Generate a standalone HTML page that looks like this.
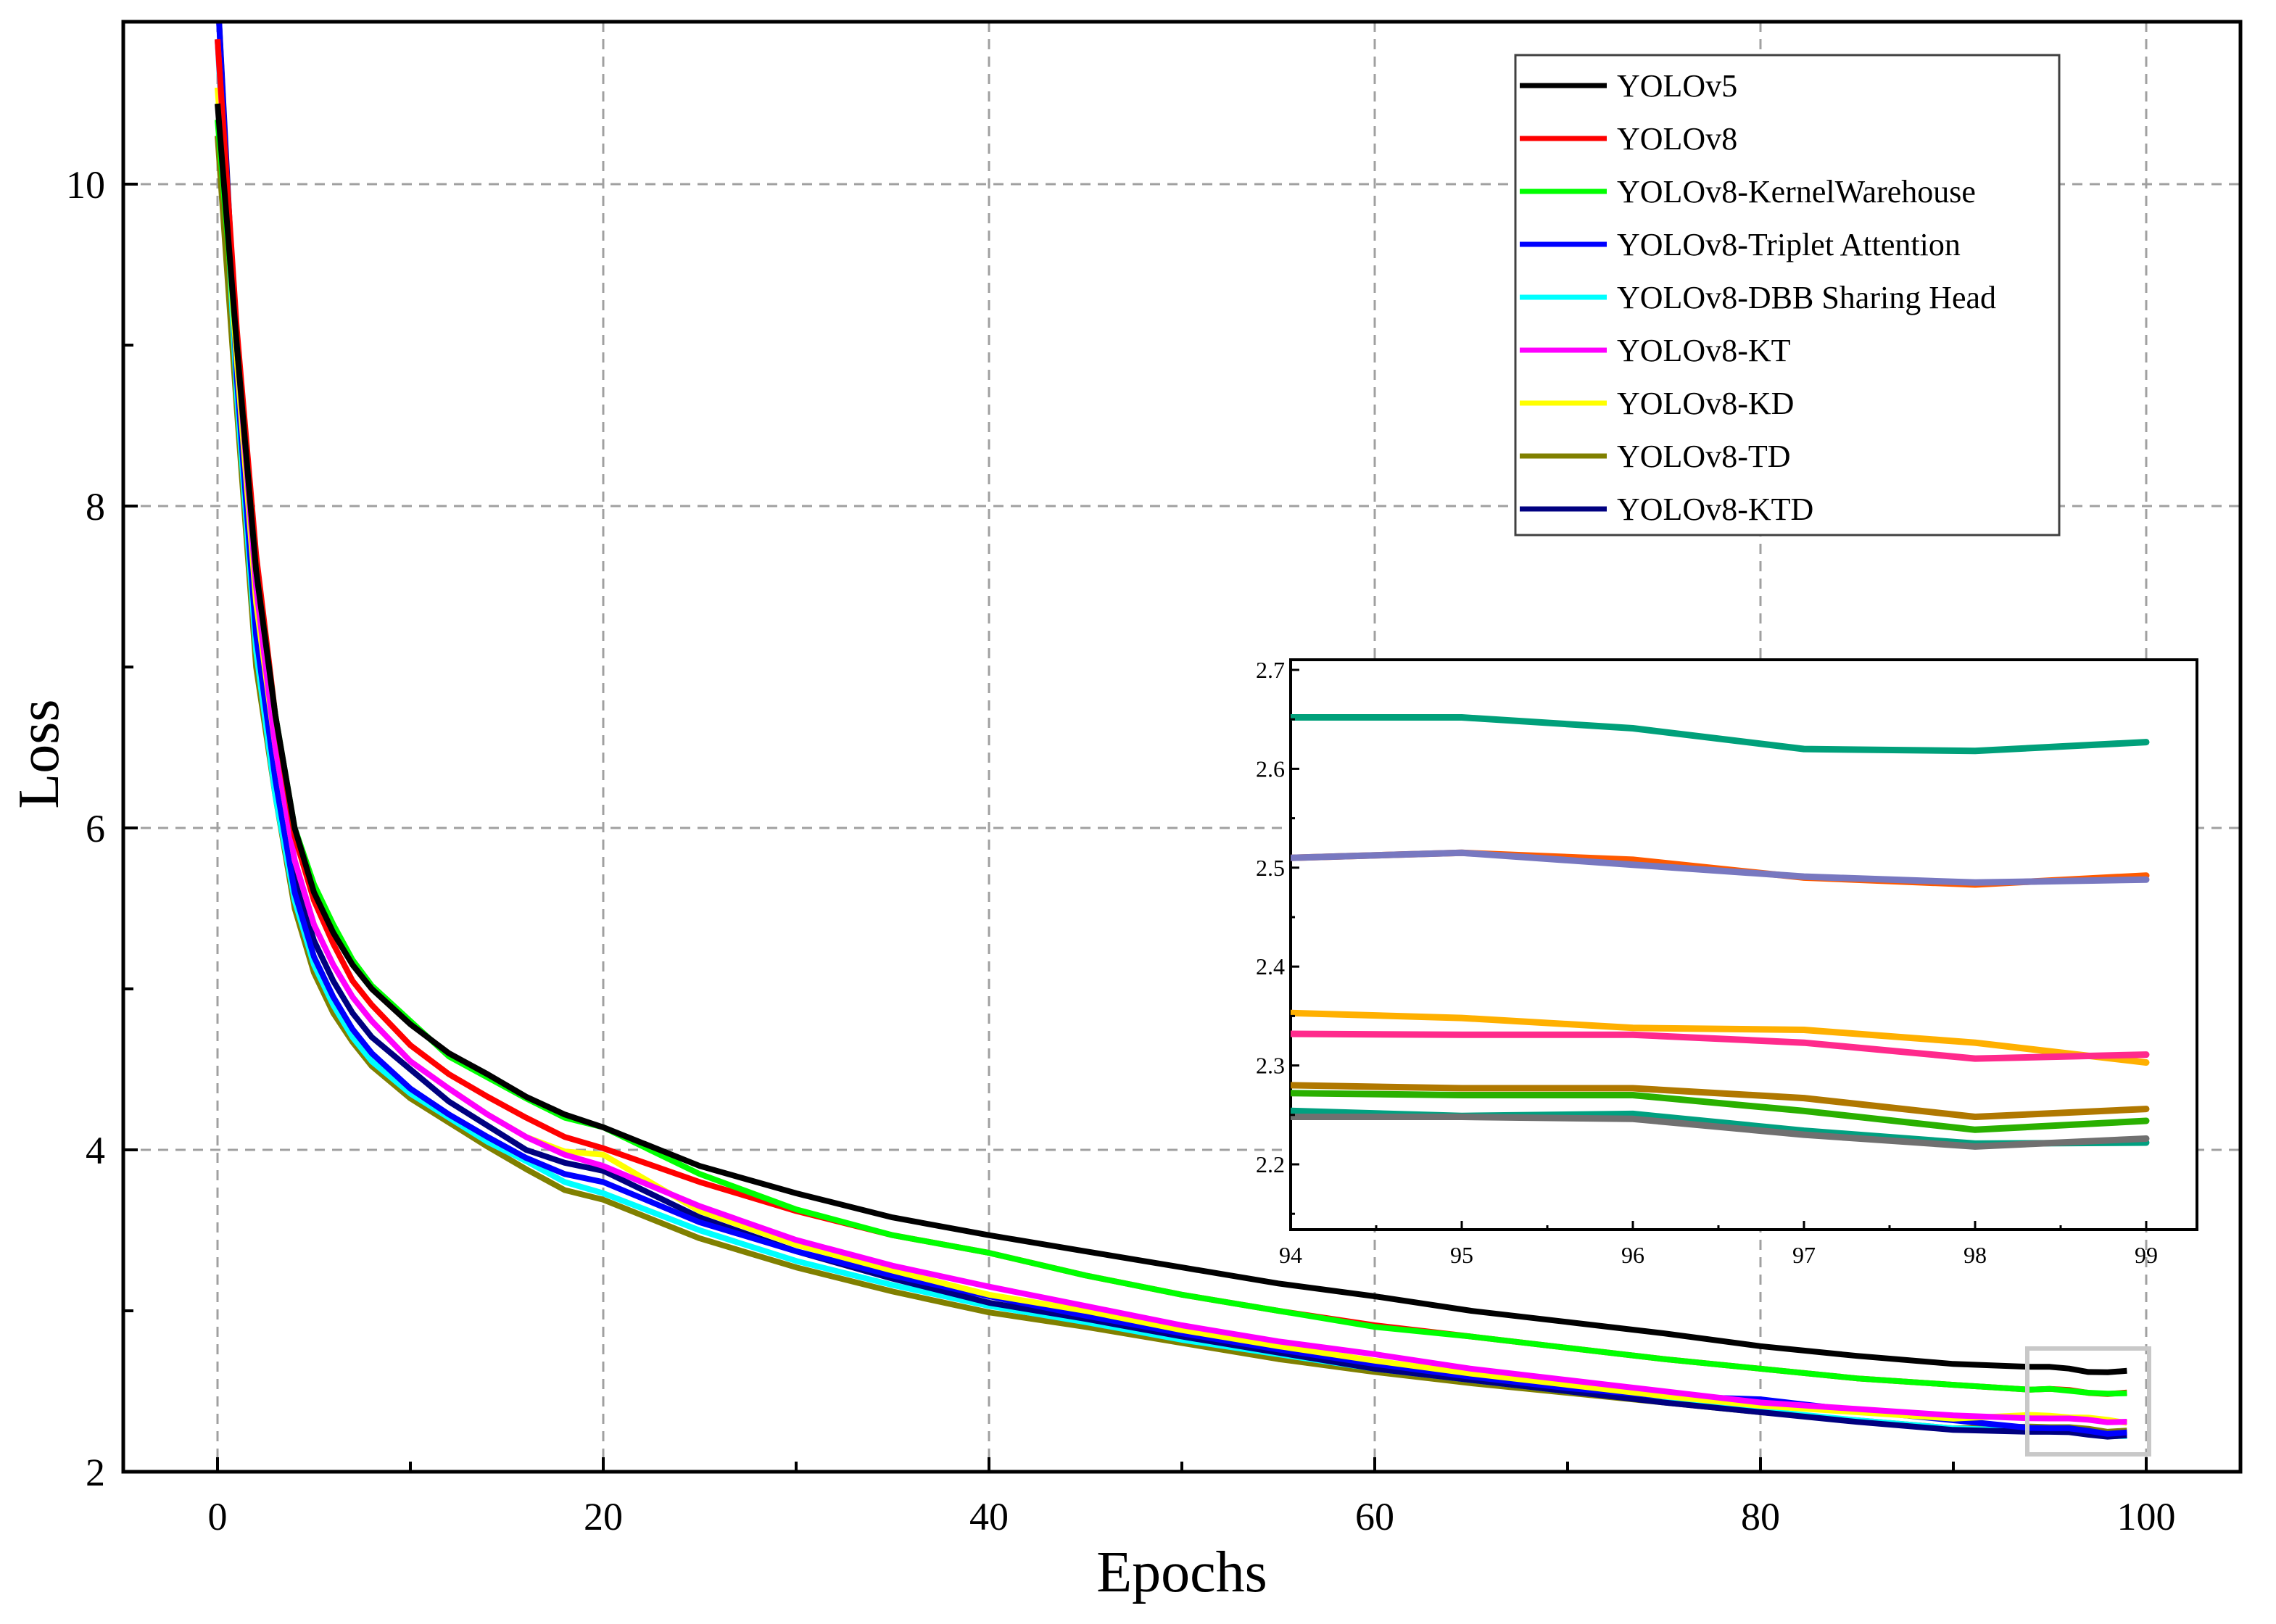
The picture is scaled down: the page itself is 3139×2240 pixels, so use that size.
<!DOCTYPE html>
<html><head><meta charset="utf-8"><style>
html,body{margin:0;padding:0;background:#fff;}
svg{display:block;font-family:"Liberation Serif",serif;}
</style></head><body>
<svg id="chart" width="3139" height="2240" viewBox="0 0 3139 2240" xmlns="http://www.w3.org/2000/svg">
<defs><clipPath id="mainClip"><rect x="170" y="30" width="2920" height="2000"/></clipPath>
<clipPath id="insetClip"><rect x="1780" y="910" width="1250" height="786"/></clipPath></defs>
<rect x="0" y="0" width="3139" height="2240" fill="#fff"/>
<g id="grid"></g>
<g id="lines" clip-path="url(#mainClip)"></g>
<rect x="170" y="30" width="2920" height="2000" fill="none" stroke="#000" stroke-width="5"/>
<g id="axes"></g>
<rect x="2796" y="1860" width="168" height="146" fill="none" stroke="#c8c8c8" stroke-width="6"/>
<g id="inset"></g>
<g id="legend"></g>
<text x="1630" y="2195" font-size="80" text-anchor="middle">Epochs</text>
<text x="0" y="0" font-size="80" text-anchor="middle" transform="translate(80,1040) rotate(-90)">Loss</text>
</svg>
<script>
const epochs=[0,1,2,3,4,5,6,7,8,10,12,14,16,18,20,25,30,35,40,45,50,55,60,65,70,75,80,85,90,94,95,96,97,98,99];
const seriesNames=["YOLOv5","YOLOv8","YOLOv8-KernelWarehouse","YOLOv8-Triplet Attention","YOLOv8-DBB Sharing Head","YOLOv8-KT","YOLOv8-KD","YOLOv8-TD","YOLOv8-KTD"];
const yolov5=[10.5,9.0,7.6,6.7,6.0,5.6,5.35,5.15,5.0,4.78,4.6,4.47,4.33,4.22,4.14,3.9,3.73,3.58,3.47,3.37,3.27,3.17,3.09,3.0,2.93,2.86,2.78,2.72,2.67,2.652,2.652,2.641,2.62,2.618,2.627];
const yolov8=[10.9,9.1,7.7,6.7,5.95,5.55,5.28,5.05,4.9,4.65,4.47,4.33,4.2,4.08,4.01,3.8,3.62,3.47,3.36,3.22,3.1,3.0,2.91,2.84,2.77,2.7,2.64,2.58,2.54,2.51,2.515,2.508,2.49,2.483,2.492];
const kernelWarehouse=[10.4,9.0,7.6,6.7,6.0,5.65,5.4,5.18,5.02,4.8,4.58,4.45,4.32,4.2,4.14,3.85,3.63,3.47,3.36,3.22,3.1,3.0,2.9,2.84,2.77,2.7,2.64,2.58,2.54,2.51,2.515,2.503,2.491,2.485,2.488];
const triplet=[11.2,8.8,7.2,6.3,5.6,5.2,4.95,4.75,4.6,4.38,4.22,4.08,3.95,3.85,3.8,3.55,3.37,3.22,3.09,2.97,2.86,2.76,2.67,2.59,2.52,2.47,2.45,2.38,2.32,2.272,2.27,2.27,2.254,2.235,2.244];
const dbb=[10.9,8.7,7.1,6.2,5.55,5.15,4.9,4.7,4.55,4.35,4.2,4.05,3.93,3.8,3.73,3.5,3.31,3.16,3.03,2.93,2.82,2.73,2.64,2.57,2.5,2.44,2.38,2.32,2.27,2.254,2.249,2.251,2.234,2.221,2.222];
const kt=[10.9,9.0,7.5,6.5,5.8,5.4,5.15,4.95,4.8,4.55,4.38,4.22,4.08,3.97,3.9,3.65,3.44,3.28,3.15,3.03,2.91,2.81,2.73,2.64,2.57,2.5,2.43,2.39,2.35,2.332,2.331,2.331,2.323,2.307,2.311];
const kd=[10.6,8.9,7.4,6.5,5.8,5.4,5.15,4.95,4.8,4.55,4.38,4.22,4.08,3.99,3.97,3.62,3.41,3.25,3.1,3.0,2.88,2.78,2.69,2.61,2.54,2.47,2.41,2.37,2.33,2.353,2.348,2.338,2.336,2.323,2.303];
const td=[10.3,8.6,7.0,6.2,5.5,5.1,4.85,4.67,4.52,4.32,4.17,4.02,3.88,3.75,3.69,3.45,3.27,3.12,2.99,2.9,2.8,2.7,2.62,2.55,2.49,2.43,2.37,2.32,2.27,2.28,2.277,2.277,2.267,2.248,2.256];
const ktd=[11.2,8.9,7.3,6.4,5.7,5.3,5.05,4.85,4.7,4.5,4.3,4.15,4.0,3.92,3.87,3.58,3.37,3.2,3.05,2.95,2.84,2.74,2.64,2.57,2.5,2.43,2.37,2.31,2.26,2.248,2.248,2.246,2.23,2.218,2.226];
const xTicks=[0,20,40,60,80,100];
const yTicks=[2,4,6,8,10];
const insetXTicks=[94,95,96,97,98,99];
const insetYTicks=[2.2,2.3,2.4,2.5,2.6,2.7];

const allSeries=[yolov5,yolov8,kernelWarehouse,triplet,dbb,kt,kd,td,ktd];
const mainColors=["#000000","#ff0000","#00ff00","#0000ff","#00ffff","#ff00ff","#ffff00","#808000","#000080"];
const insetColors=["#00a07a","#ff5a00","#7878c0","#2ab000","#00a080","#ff2a8c","#ffb000","#b07800","#707070"];
const drawOrder=[7,4,8,3,6,5,1,2,0];
const NS="http://www.w3.org/2000/svg";
function mk(tag,attrs,parent){const e=document.createElementNS(NS,tag);for(const k in attrs)e.setAttribute(k,attrs[k]);parent.appendChild(e);return e;}
const X=v=>300+v*(2960-300)/100;
const Y=v=>2030-(v-2)*(2030-254)/8;
const IX=v=>1780+(v-94)*(2960-1780)/5;
const IY=v=>1606-(v-2.2)*(1606-924)/0.5;

const grid=document.getElementById('grid');
xTicks.forEach(t=>{const l=mk('line',{x1:X(t),x2:X(t),y1:30,y2:2030,stroke:'#a0a0a0','stroke-width':3,'stroke-dasharray':'14 10'},grid);

});
yTicks.filter(t=>t>2).forEach(t=>{const l=mk('line',{x1:170,x2:3090,y1:Y(t),y2:Y(t),stroke:'#a0a0a0','stroke-width':3,'stroke-dasharray':'14 10'},grid);

});

const lines=document.getElementById('lines');
drawOrder.forEach(i=>{const d=allSeries[i].map((v,j)=>(j?'L':'M')+X(epochs[j]).toFixed(1)+','+Y(v).toFixed(1)).join(' ');
const p=mk('path',{d:d,fill:'none',stroke:mainColors[i],'stroke-width':8,'stroke-linejoin':'round'},lines);

});

const axes=document.getElementById('axes');
xTicks.forEach(t=>{mk('line',{x1:X(t),x2:X(t),y1:2030,y2:2010,stroke:'#000','stroke-width':4},axes);
const tx=mk('text',{x:X(t),y:2110,'font-size':54,'text-anchor':'middle'},axes);tx.textContent=t;

});
[10,30,50,70,90].forEach(t=>mk('line',{x1:X(t),x2:X(t),y1:2030,y2:2016,stroke:'#000','stroke-width':4},axes));
yTicks.forEach(t=>{mk('line',{x1:170,x2:190,y1:Y(t),y2:Y(t),stroke:'#000','stroke-width':4},axes);
const tx=mk('text',{x:145,y:Y(t)+19,'font-size':54,'text-anchor':'end'},axes);tx.textContent=t;

});
[3,5,7,9].forEach(t=>mk('line',{x1:170,x2:184,y1:Y(t),y2:Y(t),stroke:'#000','stroke-width':4},axes));

const inset=document.getElementById('inset');
mk('rect',{x:1780,y:910,width:1250,height:786,fill:'#fff',stroke:'#000','stroke-width':4},inset);
const ig=mk('g',{'clip-path':'url(#insetClip)'},inset);
drawOrder.forEach(i=>{const pts=[];epochs.forEach((e,j)=>{if(e>=94)pts.push([IX(e),IY(allSeries[i][j])]);});
const d=pts.map((p,j)=>(j?'L':'M')+p[0].toFixed(1)+','+p[1].toFixed(1)).join(' ');
const p=mk('path',{d:d,fill:'none',stroke:insetColors[i],'stroke-width':9,'stroke-linecap':'round','stroke-linejoin':'round'},ig);

});
insetXTicks.forEach(t=>{mk('line',{x1:IX(t),x2:IX(t),y1:1696,y2:1684,stroke:'#000','stroke-width':3},inset);
if(t<99)mk('line',{x1:IX(t+0.5),x2:IX(t+0.5),y1:1696,y2:1690,stroke:'#000','stroke-width':3},inset);
const tx=mk('text',{x:IX(t),y:1742,'font-size':32,'text-anchor':'middle'},inset);tx.textContent=t;

});
insetYTicks.forEach(t=>{mk('line',{x1:1780,x2:1792,y1:IY(t),y2:IY(t),stroke:'#000','stroke-width':3},inset);
mk('line',{x1:1780,x2:1786,y1:IY(t-0.05),y2:IY(t-0.05),stroke:'#000','stroke-width':3},inset);
const tx=mk('text',{x:1772,y:IY(t)+11,'font-size':32,'text-anchor':'end'},inset);tx.textContent=t.toFixed(1);

});

const lg=document.getElementById('legend');
mk('rect',{x:2090,y:76,width:750,height:662,fill:'#fff',stroke:'#404040','stroke-width':3},lg);
seriesNames.forEach((n,i)=>{const y=118+i*73;
const g=mk('g',{},lg);


mk('line',{x1:2096,x2:2216,y1:y,y2:y,stroke:mainColors[i],'stroke-width':7},g);
const tx=mk('text',{x:2230,y:y+15,'font-size':44},g);tx.textContent=n;});
</script>
</body></html>
